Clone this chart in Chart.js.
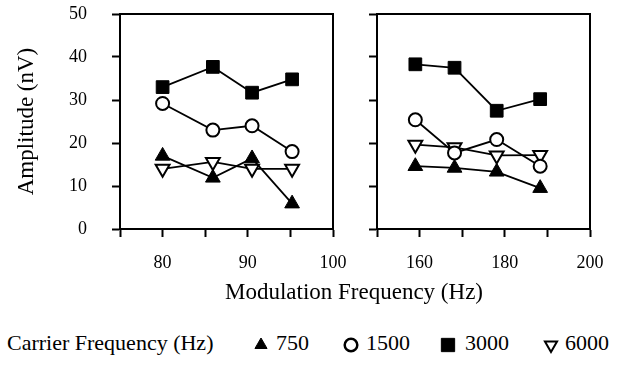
<!DOCTYPE html>
<html>
<head>
<meta charset="utf-8">
<script src="https://cdn.jsdelivr.net/npm/chart.js@4.4.1/dist/chart.umd.min.js"></script>
<style>
  html, body { margin: 0; padding: 0; background: #fff; }
  #wrap { position: relative; width: 618px; height: 371px; overflow: hidden; font-family: "Liberation Serif", "Times New Roman", serif; color: #000; }
  #leftBox { position: absolute; left: 0; top: 0; width: 360px; height: 285px; }
  #rightBox { position: absolute; left: 345px; top: 0; width: 273px; height: 285px; }
  .xTitle { position: absolute; left: 154px; width: 400px; top: 280px; text-align: center; font-size: 23px; line-height: 23px; white-space: nowrap; }
  .legendTitle { position: absolute; left: 7px; top: 331px; font-size: 22px; line-height: 23px; white-space: nowrap; }
  .legendText { position: absolute; top: 331px; font-size: 22px; line-height: 23px; white-space: nowrap; }
  .legendMark { position: absolute; top: 335px; }
</style>
</head>
<body>
<div id="wrap">
  <div id="leftBox"><canvas id="leftChart"></canvas></div>
  <div id="rightBox"><canvas id="rightChart"></canvas></div>
  <div class="xTitle">Modulation Frequency (Hz)</div>
  <div class="legendTitle">Carrier Frequency (Hz)</div>
  <div id="legend"></div>
</div>
<script>
// modulation frequencies (Hz) for the two ranges
const freqLow = [80, 85.9, 90.5, 95.2];
const freqHigh = [159, 168.2, 178.1, 188.3];

// carrier frequencies (Hz)
const carriers = ['750', '1500', '3000', '6000'];

// amplitudes (nV), low modulation range
const amp750Low = [17.0, 11.9, 16.4, 5.9];
const amp1500Low = [29.2, 23.0, 24.0, 18.0];
const amp3000Low = [33.0, 37.7, 31.7, 34.8];
const amp6000Low = [14.0, 15.6, 14.0, 14.0];

// amplitudes (nV), high modulation range
const amp750High = [14.6, 14.2, 13.3, 9.5];
const amp1500High = [25.4, 17.7, 20.8, 14.6];
const amp3000High = [38.3, 37.5, 27.5, 30.2];
const amp6000High = [19.6, 19.0, 17.1, 17.2];

const yTicks = [0, 10, 20, 30, 40, 50];
const lowTickLabels = [80, 90, 100];
const highTickLabels = [160, 180, 200];

const tickFont = { family: 'Liberation Serif', size: 18 };

// marker style per carrier
const markers = [
  { pointStyle: 'triangle', rotation: 0, radius: 8.5, fill: '#000', borderWidth: 1 },
  { pointStyle: 'circle', rotation: 0, radius: 6.5, fill: '#fff', borderWidth: 2 },
  { pointStyle: 'rect', rotation: 0, radius: 9, fill: '#000', borderWidth: 1 },
  { pointStyle: 'triangle', rotation: 180, radius: 8, fill: '#fff', borderWidth: 2 }
];

function makeSets(xs, series) {
  return series.map((ys, i) => ({
    label: carriers[i],
    data: xs.map((x, j) => ({ x: x, y: ys[j] })),
    borderColor: '#000',
    borderWidth: 1.8,
    pointStyle: markers[i].pointStyle,
    rotation: markers[i].rotation,
    pointRadius: markers[i].radius,
    pointHoverRadius: markers[i].radius,
    pointBackgroundColor: markers[i].fill,
    pointBorderColor: '#000',
    pointBorderWidth: markers[i].borderWidth,
    fill: false,
    tension: 0
  }));
}

// closes the plot box on the top and right sides
const frameBox = {
  id: 'frameBox',
  afterDraw(chart) {
    const a = chart.chartArea;
    const ctx = chart.ctx;
    ctx.save();
    ctx.strokeStyle = '#000';
    ctx.lineWidth = 2;
    ctx.beginPath();
    ctx.moveTo(a.left, a.top);
    ctx.lineTo(a.right, a.top);
    ctx.lineTo(a.right, a.bottom);
    ctx.stroke();
    ctx.restore();
  }
};

// fixed axis sizes so both panels line up; tick-label overhang is covered by layout padding
function fixSize(w, h) {
  return (scale) => {
    if (w) scale.width = w;
    if (h) scale.height = h;
    scale.paddingTop = 0;
    scale.paddingBottom = 0;
    scale.paddingLeft = 0;
    scale.paddingRight = 0;
  };
}

function makeOptions(xMin, xMax, xStep, xLabels, showY, yWidth, padRight) {
  return {
    responsive: true,
    maintainAspectRatio: false,
    animation: false,
    events: [],
    layout: { padding: { left: 0, right: padRight, top: 14, bottom: 16 } },
    plugins: { legend: { display: false }, tooltip: { enabled: false } },
    scales: {
      x: {
        type: 'linear',
        min: xMin,
        max: xMax,
        afterFit: fixSize(0, 40),
        afterBuildTicks(scale) {
          const t = [];
          for (let v = xMin; v <= xMax; v += xStep) t.push({ value: v });
          scale.ticks = t;
        },
        ticks: {
          autoSkip: false,
          maxRotation: 0,
          padding: 15,
          color: '#000',
          font: tickFont,
          callback: (v) => xLabels.includes(v) ? String(v) : ''
        },
        grid: { drawOnChartArea: false, drawTicks: true, tickLength: 8, tickWidth: 2, tickColor: '#000' },
        border: { display: true, color: '#000', width: 2 }
      },
      y: {
        type: 'linear',
        min: 0,
        max: 50,
        afterFit: fixSize(yWidth, 0),
        afterBuildTicks(scale) { scale.ticks = yTicks.map(v => ({ value: v })); },
        ticks: {
          display: showY,
          padding: 25,
          color: '#000',
          font: tickFont
        },
        title: {
          display: showY,
          text: 'Amplitude (nV)',
          color: '#000',
          font: { family: 'Liberation Serif', size: 23 },
          padding: { top: 13, bottom: 0 }
        },
        grid: { drawOnChartArea: false, drawTicks: true, tickLength: 8, tickWidth: 2, tickColor: '#000' },
        border: { display: true, color: '#000', width: 2 }
      }
    }
  };
}

new Chart(document.getElementById('leftChart'), {
  type: 'line',
  data: { datasets: makeSets(freqLow, [amp750Low, amp1500Low, amp3000Low, amp6000Low]) },
  options: makeOptions(75, 100, 5, lowTickLabels, true, 120, 27),
  plugins: [frameBox]
});

new Chart(document.getElementById('rightChart'), {
  type: 'line',
  data: { datasets: makeSets(freqHigh, [amp750High, amp1500High, amp3000High, amp6000High]) },
  options: makeOptions(150, 200, 10, highTickLabels, false, 32, 28),
  plugins: [frameBox]
});

// legend row: marker + carrier label
const legendMarkX = [261, 350.5, 448, 551];
const legendTextX = [276, 366, 465, 565];
const legendRadius = [7, 6.3, 9.4, 7];
const legendEl = document.getElementById('legend');
carriers.forEach((name, i) => {
  const c = document.createElement('canvas');
  c.width = 20; c.height = 20;
  c.className = 'legendMark';
  c.style.left = (legendMarkX[i] - 10) + 'px';
  const ctx = c.getContext('2d');
  ctx.fillStyle = markers[i].fill;
  ctx.strokeStyle = '#000';
  ctx.lineWidth = markers[i].pointStyle === 'circle' ? 2.5 : markers[i].borderWidth;
  Chart.helpers.drawPoint(ctx, {
    pointStyle: markers[i].pointStyle,
    rotation: markers[i].rotation,
    radius: legendRadius[i],
    borderWidth: ctx.lineWidth
  }, 10, 10);
  legendEl.appendChild(c);
  const t = document.createElement('div');
  t.className = 'legendText';
  t.style.left = legendTextX[i] + 'px';
  t.textContent = name;
  legendEl.appendChild(t);
});
</script>
</body>
</html>
